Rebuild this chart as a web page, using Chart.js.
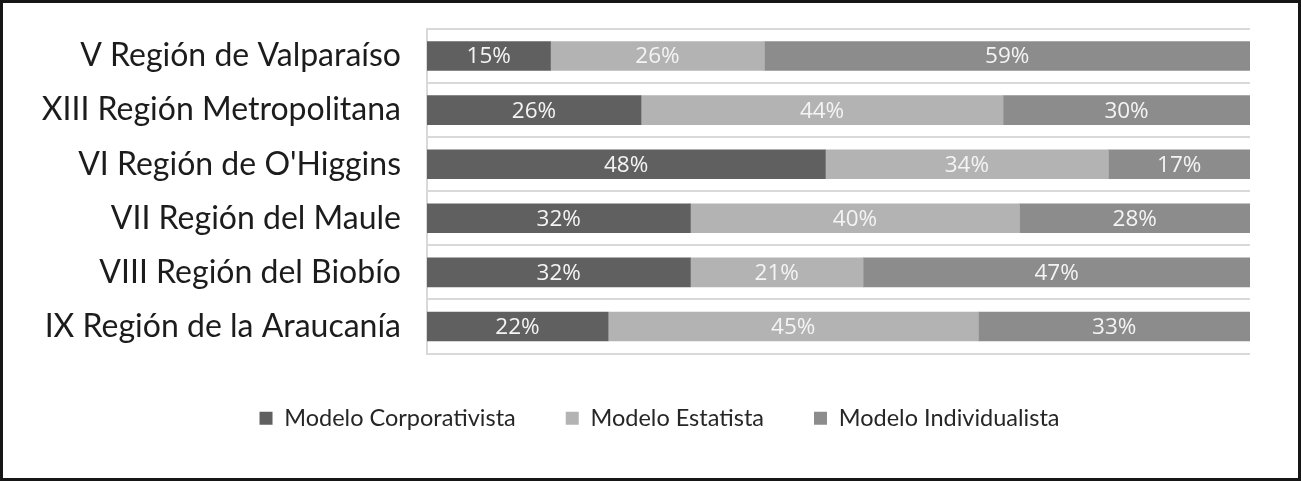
<!DOCTYPE html>
<html>
<head>
<meta charset="utf-8">
<script src="https://cdn.jsdelivr.net/npm/chart.js@4"></script>
<style>
  html, body { margin: 0; padding: 0; background: #fff; }
  #frame { width: 1301px; height: 481px; box-sizing: border-box; border: 3px solid #161616; }
  #frame canvas { display: block; }
</style>
</head>
<body>
<div id="frame"><canvas id="chart" width="1295" height="475"></canvas></div>
<script>
'use strict';

const regions = [
  "V Región de Valparaíso",
  "XIII Región Metropolitana",
  "VI Región de O'Higgins",
  "VII Región del Maule",
  "VIII Región del Biobío",
  "IX Región de la Araucanía"
];
const corporativista = [15, 26, 48.4, 32, 32, 22];
const estatista = [26, 44, 34.4, 40, 21, 45];
const individualista = [59, 30, 17.2, 28, 47, 33];

const labelFont = '"Lato", "Open Sans", sans-serif';

// percentage text in the middle of each bar piece
const barLabels = {
  id: 'barLabels',
  afterDatasetsDraw(chart) {
    const ctx = chart.ctx;
    ctx.save();
    ctx.font = '22.5px "Open Sans", sans-serif';
    ctx.fillStyle = '#f4f4f4';
    ctx.textAlign = 'center';
    ctx.textBaseline = 'middle';
    chart.data.datasets.forEach(function(ds, i) {
      chart.getDatasetMeta(i).data.forEach(function(bar, j) {
        const p = bar.getProps(['x', 'base', 'y'], true);
        ctx.fillText(Math.round(ds.data[j]) + '%', (p.x + p.base) / 2, p.y + 1);
      });
    });
    ctx.restore();
  }
};

// the legend in the picture sits a bit right of the canvas middle
const legendShift = {
  id: 'legendShift',
  afterLayout(chart) {
    chart.legend.left += 33;
    chart.legend.right += 33;
  }
};

const ctx = document.getElementById('chart').getContext('2d');
const myChart = new Chart(ctx, {
  type: 'bar',
  data: {
    labels: regions,
    datasets: [{
      label: 'Modelo Corporativista',
      data: corporativista,
      backgroundColor: '#606060'
    }, {
      label: 'Modelo Estatista',
      data: estatista,
      backgroundColor: '#b3b3b3'
    }, {
      label: 'Modelo Individualista',
      data: individualista,
      backgroundColor: '#8c8c8c'
    }]
  },
  options: {
    indexAxis: 'y',
    responsive: false,
    animation: false,
    barThickness: 29,
    layout: { padding: { top: 26, right: 48, left: 0, bottom: 38 } },
    scales: {
      x: {
        stacked: true, min: 0, max: 100,
        afterFit: function(scale) { scale.height = 3; },
        grid: { display: false },
        border: { display: false },
        ticks: { display: false }
      },
      y: {
        stacked: true,
        afterFit: function(scale) {
          scale.width = 424;
          scale.paddingTop = 0;
          scale.paddingBottom = 0;
        },
        grid: { color: '#d9d9d9', lineWidth: 2, drawTicks: false, offset: true },
        border: { display: true, color: '#d9d9d9', width: 2 },
        ticks: { padding: 26, color: '#1c1c1c', font: { family: labelFont, size: 32 } }
      }
    },
    plugins: {
      tooltip: { enabled: false },
      legend: {
        position: 'bottom',
        labels: {
          boxWidth: 13,
          boxHeight: 13,
          padding: 50,
          color: '#262626',
          font: { family: labelFont, size: 23.5 }
        }
      }
    }
  },
  plugins: [barLabels, legendShift]
});
</script>
</body>
</html>
